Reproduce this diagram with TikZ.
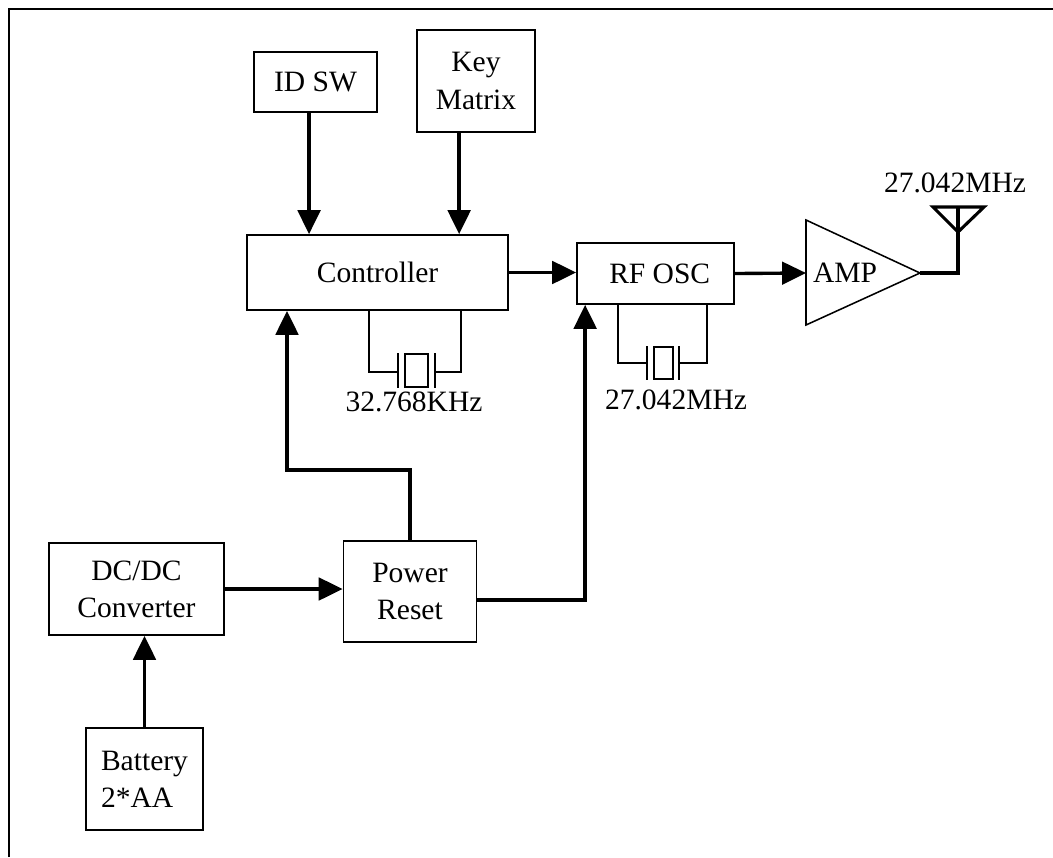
\documentclass[tikz,border=0pt]{standalone}
\usepackage{fontspec}
\setmainfont{Liberation Serif}
\usetikzlibrary{arrows.meta}

\begin{document}
\begin{tikzpicture}[x=0.025cm,y=-0.025cm,
  font=\fontsize{21}{26.5}\selectfont,
  block/.style={draw, line width=1.2pt, inner sep=0pt, align=center},
  wire/.style={line width=1.1pt},
  arr/.style={line width=2.4pt, -{Triangle[length=17pt,width=16pt]}},
  aerial/.style={line width=2.2pt, line join=miter}]
\useasboundingbox (0,0) rectangle (1053,857);
\draw[line width=1.4pt] (9,857) -- (9,9) -- (1053,9);

% blocks
\node[block, minimum width=3.075cm, minimum height=1.5cm] (idsw) at (315.5,82) {ID SW};
\node[block, minimum width=2.95cm, minimum height=2.55cm] (key) at (476,81) {Key\\Matrix};
\node[block, minimum width=6.525cm, minimum height=1.875cm] (ctrl) at (377.5,272.5) {Controller};
\node[block, minimum width=3.925cm, minimum height=1.525cm] (rf) at (655.5,273.5) {\hspace{6pt}RF OSC};
\node[block, minimum width=4.375cm, minimum height=2.3cm] (dcdc) at (136.5,589) {DC/DC\\Converter};
\node[block, minimum width=3.325cm, minimum height=2.525cm] (pwr) at (410,591.5) {Power\\Reset};
\node[block, align=left, minimum width=2.925cm, minimum height=2.55cm] (batt) at (144.5,779) {Battery\\2*AA};

% amplifier
\coordinate (ampin) at (806,273);
\coordinate (ampout) at (920,273);
\draw[wire] (806,220) -- (ampout) -- (806,325) -- cycle;
\node (amp) at (845,273) {AMP};

% antenna
\draw[aerial] (ampout) -- (958,273) -- (958,207);
\draw[aerial] (933,207) -- (984,207) -- (958,232) -- cycle;
\node (ant) at (955,183) {27.042MHz};

% crystals
\draw[wire] (369,372 |- ctrl.south) |- (398,372);
\draw[wire] (398,353) -- (398,388);
\draw[wire] (405,354) rectangle (428,387);
\draw[wire] (435,353) -- (435,388);
\draw[wire] (435,372) -| (461,372 |- ctrl.south);
\node (xt1) at (414,402) {32.768KHz};

\draw[wire] (618,363 |- rf.south) |- (647,363);
\draw[wire] (647,346) -- (647,380);
\draw[wire] (654,347) rectangle (673,379);
\draw[wire] (679,346) -- (679,380);
\draw[wire] (679,363) -| (707,363 |- rf.south);
\node (xt2) at (676,400) {27.042MHz};

% signal paths
\draw[arr] ([xshift=-4.6pt]idsw.south) -- ([xshift=-4.6pt]idsw.south |- ctrl.north);
\draw[arr] ([xshift=-12pt]key.south) -- ([xshift=-12pt]key.south |- ctrl.north);
\draw[arr] (ctrl.east) -- (ctrl.east -| rf.west);
\draw[arr] (rf.east) -- (ampin);
\draw[arr] (pwr.north) |- (287,470) -- (287,470 |- ctrl.south);
\draw[arr] ([yshift=-6pt]pwr.east) -| ([xshift=6.4pt]rf.south west);
\draw[arr] (dcdc.east) -- (dcdc.east -| pwr.west);
\draw[arr] (batt.north) -- (batt.north |- dcdc.south);
\end{tikzpicture}
\end{document}
